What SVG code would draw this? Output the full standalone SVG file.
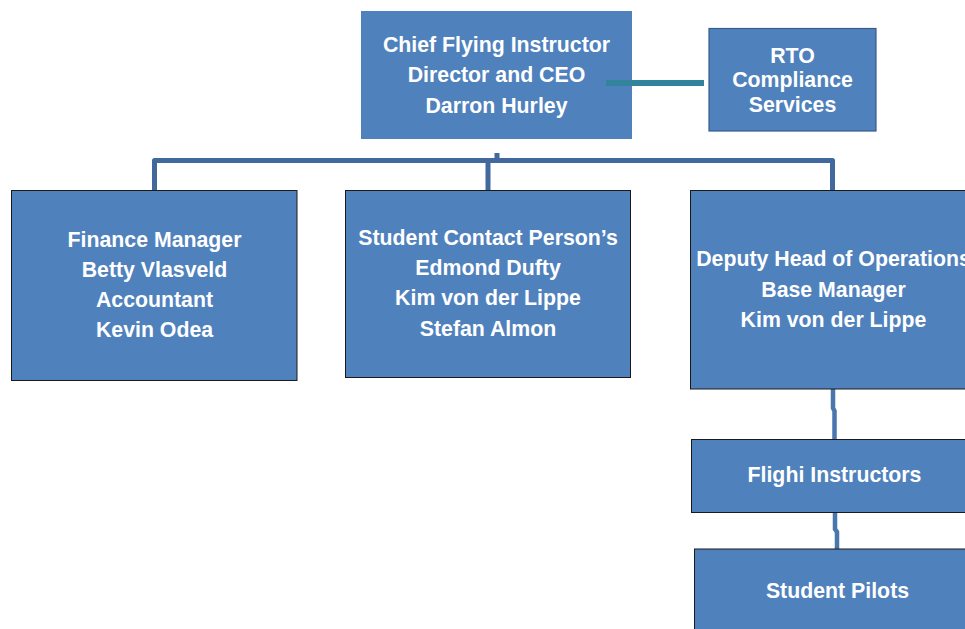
<svg xmlns="http://www.w3.org/2000/svg" width="965" height="629" viewBox="0 0 965 629">
<style>
  .box { fill: #4f81bd; stroke: #1a1a1a; stroke-width: 1; }
  .boxnb { fill: #4f81bd; }
  .boxrto { fill: #4f81bd; stroke: #385d8a; stroke-width: 1.2; }
  .t { font-family: "Liberation Sans", Arial, sans-serif; font-weight: bold; font-size: 21.3px; fill: #ffffff; text-anchor: middle; }
  .bus { fill: none; stroke: #41699d; stroke-width: 5; stroke-linejoin: round; }
  .v { fill: none; stroke: #4a76ae; stroke-width: 4.5; }
  .teal { stroke: #31849b; stroke-width: 6; fill: none; }
</style>
<rect width="965" height="629" fill="#ffffff"/>
<g id="cfi">
  <rect class="boxnb" x="361" y="11" width="271" height="128"/>
  <text class="t" x="496.5" y="52">Chief Flying Instructor</text>
  <text class="t" x="496.5" y="82">Director and CEO</text>
  <text class="t" x="496.5" y="112.5">Darron Hurley</text>
</g>
<g id="rto">
  <rect class="boxrto" x="709" y="28.5" width="167" height="102.5"/>
  <text class="t" x="792.5" y="63">RTO</text>
  <text class="t" x="792.5" y="87">Compliance</text>
  <text class="t" x="792.5" y="112">Services</text>
</g>
<g id="connectors">
  <line class="teal" x1="606" y1="83" x2="704" y2="83"/>
  <line class="bus" x1="497" y1="153" x2="497" y2="160.5"/>
  <path class="bus" d="M154.5 190 V160.5 H832.5 V190"/>
  <line class="bus" x1="488" y1="160.5" x2="488" y2="190"/>
  <path class="v" d="M833 389 V408 L834.5 411 V439"/>
  <path class="v" d="M835 512 V529 L837 532 V549"/>
</g>
<g id="finance">
  <rect class="box" x="11.5" y="190.5" width="285.5" height="190"/>
  <text class="t" x="154.5" y="247">Finance Manager</text>
  <text class="t" x="154.5" y="277">Betty Vlasveld</text>
  <text class="t" x="154.5" y="307">Accountant</text>
  <text class="t" x="154.5" y="337">Kevin Odea</text>
</g>
<g id="student-contact">
  <rect class="box" x="345.5" y="190.5" width="285" height="187"/>
  <text class="t" x="488" y="244.5">Student Contact Person’s</text>
  <text class="t" x="488" y="275">Edmond Dufty</text>
  <text class="t" x="488" y="305">Kim von der Lippe</text>
  <text class="t" x="488" y="335.5">Stefan Almon</text>
</g>
<g id="deputy">
  <rect class="box" x="690.5" y="190.5" width="290" height="198.5"/>
  <text class="t" x="833.5" y="266">Deputy Head of Operations</text>
  <text class="t" x="833.5" y="296.5">Base Manager</text>
  <text class="t" x="833.5" y="327">Kim von der Lippe</text>
</g>
<g id="flight-instructors">
  <rect class="box" x="691.5" y="439.5" width="290" height="73"/>
  <text class="t" x="834.5" y="482">Flighi Instructors</text>
</g>
<g id="student-pilots">
  <rect class="box" x="694.5" y="549" width="290" height="100"/>
  <text class="t" x="837.5" y="598">Student Pilots</text>
</g>
</svg>
